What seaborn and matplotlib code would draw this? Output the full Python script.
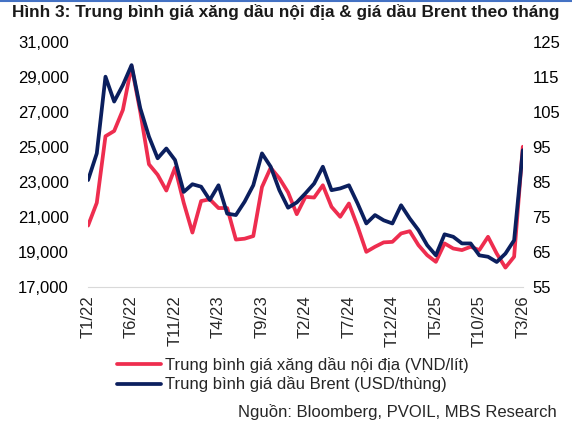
import numpy as np
import pandas as pd
import matplotlib.pyplot as plt
import matplotlib.ticker as mticker
from matplotlib.lines import Line2D
import seaborn as sns

# Monthly data T1/22 .. T3/26
months = [f"T{m}/{y}" for y in range(22, 27) for m in range(1, 13)][:51]

domestic = [20500, 21800, 25600, 25900, 27100, 29600, 27000, 24000, 23400, 22500,
            23800, 21800, 20100, 21900, 22000, 21500, 21500, 19700, 19750, 19900,
            22700, 23800, 23200, 22400, 21150, 22140, 22100, 22800, 21570, 21000,
            21760, 20450, 19000, 19290, 19540, 19570, 20050, 20180, 19380, 18810,
            18430, 19480, 19190, 19100, 19290, 19100, 19860, 18900, 18100, 18720,
            25000]

brent = [85.5, 93.1, 115.0, 107.9, 112.6, 118.3, 106.0, 97.9, 91.7, 94.5,
         91.2, 82.1, 84.3, 83.6, 79.8, 84.0, 75.9, 75.5, 79.3, 84.0,
         93.1, 89.3, 82.6, 77.6, 79.1, 81.7, 84.5, 89.3, 82.6, 83.1,
         84.0, 78.8, 73.1, 75.5, 74.0, 73.1, 78.3, 74.5, 71.2, 66.9,
         64.0, 70.0, 69.3, 67.4, 67.4, 64.0, 63.6, 62.1, 64.5, 68.3,
         94.0]

tick_labels = months[::5]

red = "#EE2D4F"
navy = "#0B1F5E"
fs = 12

df = pd.DataFrame({"idx": np.arange(len(months)), "month": months,
                   "domestic": domestic, "brent": brent})

sns.set_style("white")
plt.rcParams["font.family"] = ["Liberation Sans", "DejaVu Sans"]

fig = plt.figure(figsize=(5.72, 4.25), dpi=100)
ax = fig.add_axes([0.154, 0.325, 0.760, 0.577])
ax2 = ax.twinx()

sns.lineplot(data=df, x="idx", y="domestic", ax=ax, color=red, linewidth=2.7)
sns.lineplot(data=df, x="idx", y="brent", ax=ax2, color=navy, linewidth=2.7)

ax.set_xlim(0, len(months) - 1)
ax.set_ylim(17000, 31000)
ax2.set_ylim(55, 125)
ax.set_yticks(np.arange(17000, 31001, 2000))
ax2.set_yticks(np.arange(55, 126, 10))
ax.yaxis.set_major_formatter(mticker.FuncFormatter(lambda v, p: f"{int(v):,}"))

ax.set_xticks(df["idx"][::5])
ax.set_xticklabels(tick_labels, rotation=90)

for a in (ax, ax2):
    a.set_xlabel("")
    a.set_ylabel("")
    for s in a.spines.values():
        s.set_visible(False)
    a.tick_params(axis="y", length=0, labelsize=fs, colors="#000000")
ax.spines["bottom"].set_visible(True)
ax.spines["bottom"].set_color("#D9D9D9")
ax.tick_params(axis="x", length=4, color="#D9D9D9", labelsize=fs, pad=2)
ax.tick_params(axis="y", pad=14)
ax2.tick_params(axis="y", pad=7)

handles = [Line2D([], [], color=red, linewidth=2.7),
           Line2D([], [], color=navy, linewidth=2.7)]
labels = ["Trung bình giá xăng dầu nội địa (VND/lít)",
          "Trung bình giá dầu Brent (USD/thùng)"]
fig.legend(handles, labels, loc="upper left", bbox_to_anchor=(0.205, 0.16),
           frameon=False, fontsize=fs, handlelength=2.6, handletextpad=0.25,
           labelspacing=0.2, borderaxespad=0, borderpad=0)

fig.text(0.021, 0.972, "Hình 3: Trung bình giá xăng dầu nội địa & giá dầu Brent theo tháng",
         fontsize=12.4, fontweight="bold", color="#1A1A1A", va="center", ha="left")
fig.text(0.974, 0.031, "Nguồn: Bloomberg, PVOIL, MBS Research",
         fontsize=fs, color="#262626", ha="right", va="center")
fig.add_artist(Line2D([0, 1], [0.998, 0.998], transform=fig.transFigure,
                      color="#4472C4", linewidth=1.5))

fig.savefig("out.png", dpi=100)
